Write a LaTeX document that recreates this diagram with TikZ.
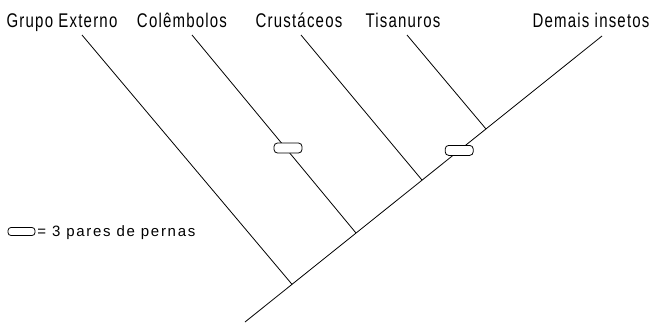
\documentclass[tikz,border=0pt]{standalone}
\usepackage{fontspec}
\usetikzlibrary{calc}
\setmainfont{Liberation Sans}[LetterSpace=8]
% taxon names are set in a tall, narrow cut of the sans face
\newcommand{\tallname}[1]{\scalebox{1}[1.32]{#1}}
\begin{document}
\begin{tikzpicture}[x=1pt,y=-1pt,line width=0.8pt,
  taxon/.style={font=\fontsize{15}{15}\selectfont,anchor=base,inner sep=0pt},
  legendtext/.style={font=\fontsize{15}{15}\selectfont\addfontfeature{LetterSpace=11.5},
    anchor=base west,inner sep=0pt},
  legsbar/.style={draw,fill=white,rounded corners=3.5pt,inner sep=0pt,
    minimum width=28pt,minimum height=10pt}]
\useasboundingbox (0,0) rectangle (656,322);

% taxon names along the top
\node[taxon] (ge)  at (62,27.5)  {\tallname{Grupo Externo}};
\node[taxon] (col) at (182,27.5) {\tallname{Colêmbolos}};
\node[taxon] (cru) at (299,27.5) {\tallname{Crustáceos}};
\node[taxon] (tis) at (403,27.5) {\tallname{Tisanuros}};
\node[taxon] (dem) at (591,27.5) {\tallname{Demais insetos}};

% main stem and the nodes where branches join it
\coordinate (root) at (245,322);
\coordinate (tip)  at (602,36);
\coordinate (j1) at ($(root)!0.1317!(tip)$);
\coordinate (j2) at ($(root)!0.311!(tip)$);
\coordinate (j3) at ($(root)!0.496!(tip)$);
\coordinate (j4) at ($(root)!0.675!(tip)$);

% upper ends of the side branches
\coordinate (ge-end)  at (82,35);
\coordinate (col-end) at (192,35);
\coordinate (cru-end) at (301,35);
\coordinate (tis-end) at (407,35);

\draw (root) -- (tip);
\draw (ge-end)  -- (j1);
\draw (col-end) -- (j2);
\draw (cru-end) -- (j3);
\draw (tis-end) -- (j4);

% character state: 3 pairs of legs
\node[legsbar] (bar1) at (288,148) {};
\node[legsbar] (bar2) at ($(root)!0.6!(tip)$) {};

% legend
\node[legsbar,minimum width=27pt,minimum height=8pt,rounded corners=3pt] (legbar) at (21.5,231.5) {};
\node[legendtext] (legtxt) at (37,236.5) {= 3 pares de pernas};
\end{tikzpicture}
\end{document}
